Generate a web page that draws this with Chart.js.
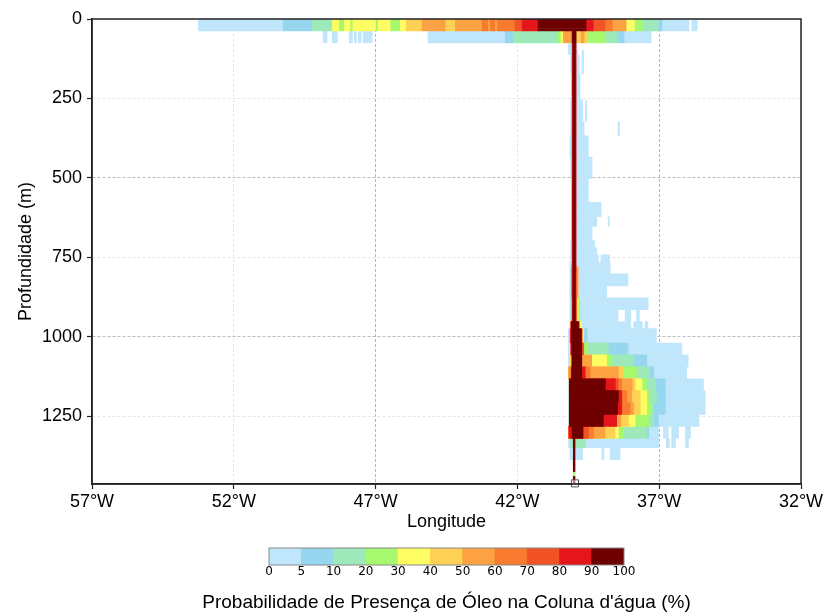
<!DOCTYPE html>
<html>
<head>
<meta charset="utf-8">
<script src="https://cdn.jsdelivr.net/npm/chart.js@4.4.1/dist/chart.umd.min.js"></script>
<style>
  body { margin: 0; background: #fff; }
  #wrap { position: relative; width: 827px; height: 614px; }
  canvas { position: absolute; left: 0; }
  #main { top: 0; }
  #bar { top: 540px; }
</style>
</head>
<body>
<div id="wrap">
  <canvas id="main" width="827" height="540"></canvas>
  <canvas id="bar" width="827" height="74"></canvas>
</div>
<script>
// probability classes: 0-5, 5-10, 10-20, ... 90-100 (%)
const classColors = ['#c0e6fb', '#96d7ef', '#9ee9b9', '#a6f86c', '#fefe64', '#fed155',
                     '#fca243', '#f87b2f', '#f15326', '#e5161b', '#6f0001'];
const cbTicks = ['0', '5', '10', '20', '30', '40', '50', '60', '70', '80', '90', '100'];
const depthTicks = [0, 250, 500, 750, 1000, 1250];

const maxDepth = 1464;
const subStep = 7.5;   // model layer resolution (m)

// rows: [top (m), bottom (m), [[lonWest, lonEast, class], ...]]
const surfaceRows = [
  [0, 37.5, [[-53.25, -50.26, 0], [-50.26, -49.23, 1], [-49.23, -48.53, 2], [-48.53, -48.3, 4],
    [-48.3, -48.1, 3], [-48.1, -47.9, 4], [-47.9, -47.8, 3], [-47.8, -47.01, 4], [-47.01, -46.91, 3],
    [-46.91, -46.49, 4], [-46.49, -46.13, 3], [-46.13, -45.92, 4], [-45.92, -45.36, 5], [-45.36, -44.55, 6],
    [-44.55, -44.19, 5], [-44.19, -43.24, 6], [-43.24, -43.05, 7], [-43.05, -42.95, 6], [-42.95, -42.8, 7],
    [-42.8, -42.7, 6], [-42.7, -42.08, 7], [-42.08, -41.83, 8], [-41.83, -41.27, 9], [-41.27, -39.58, 10],
    [-39.58, -39.33, 9], [-39.33, -38.91, 8], [-38.91, -38.66, 7], [-38.66, -38.17, 6], [-38.17, -37.88, 4],
    [-37.88, -37.6, 3], [-37.6, -37.04, 2], [-37.04, -36.9, 1], [-36.9, -35.95, 0], [-35.85, -35.66, 0]]],
  [37.5, 75, [[-48.85, -48.71, 0], [-48.53, -48.35, 0], [-47.93, -47.82, 0], [-47.75, -47.68, 0],
    [-47.61, -47.51, 0], [-47.44, -47.12, 0], [-45.15, -42.43, 0], [-42.43, -42.15, 1], [-42.15, -40.56, 2],
    [-40.56, -40.46, 3], [-40.46, -40.38, 4], [-40.38, -40.07, 6], [-40.07, -39.93, 10], [-39.93, -39.75, 5],
    [-39.75, -39.65, 6], [-39.65, -39.54, 5], [-39.54, -38.91, 3], [-38.91, -38.48, 2], [-38.48, -38.24, 1],
    [-38.24, -37.29, 0]]]
];

const columnRows = [
  [75, 97.5, [[-40.2, -39.9, 0]]],
  [97.5, 112.5, [[-40.2, -40.1, 0], [-39.95, -39.88, 0], [-39.72, -39.67, 0]]],
  [112.5, 172.5, [[-40.12, -39.82, 0], [-39.72, -39.67, 0]]],
  [172.5, 255, [[-40.1, -39.79, 0]]],
  [255, 322.5, [[-40.12, -39.7, 0], [-39.6, -39.56, 0]]],
  [322.5, 367.5, [[-40.12, -39.65, 0], [-38.45, -38.4, 0]]],
  [367.5, 435, [[-40.15, -39.5, 0]]],
  [435, 502.5, [[-40.12, -39.37, 0]]],
  [502.5, 577.5, [[-40.1, -39.5, 0]]],
  [577.5, 622.5, [[-40.1, -39.05, 0]]],
  [622.5, 652.5, [[-40.1, -39.2, 0], [-38.8, -38.76, 0]]],
  [652.5, 697.5, [[-40.1, -39.37, 0]]],
  [697.5, 720, [[-40.12, -39.28, 0]]],
  [720, 742.5, [[-40.12, -39.2, 0]]],
  [742.5, 765, [[-40.12, -39.15, 0], [-39.05, -38.75, 0]]],
  [765, 802.5, [[-40.15, -38.73, 0]]],
  [802.5, 840, [[-40.15, -38.1, 0]]],
  [840, 877.5, [[-40.15, -38.85, 0]]],
  [877.5, 915, [[-40.15, -37.39, 0]]],
  [915, 952.5, [[-40.15, -38.45, 0], [-38.2, -38.0, 0], [-37.8, -37.7, 0]]],
  [952.5, 975, [[-40.15, -38.0, 0], [-37.9, -37.6, 0], [-37.5, -37.4, 0]]]
];

const coreRows = [
  [75, 780, [[-40.07, -39.93, 9], [-40.04, -39.96, 10]]],
  [780, 877.5, [[-40.1, -39.86, 6], [-40.07, -39.93, 9], [-40.04, -39.96, 10]]],
  [877.5, 952.5, [[-40.1, -39.8, 3], [-40.1, -39.86, 4], [-40.08, -39.9, 6], [-40.07, -39.93, 9], [-40.04, -39.96, 10]]],
  [952.5, 975, [[-40.15, -39.75, 4], [-40.12, -39.82, 9], [-40.1, -39.85, 10]]]
];

const plumeRows = [
  [975, 1020, [[-40.2, -37.1, 0], [-39.66, -39.54, 1], [-39.72, -39.66, 4], [-40.14, -39.72, 9], [-40.1, -39.75, 10]]],
  [1020, 1057.5, [[-40.2, -36.2, 0], [-39.73, -38.1, 1], [-39.73, -38.8, 2], [-39.73, -39.54, 3],
    [-39.75, -39.66, 8], [-40.12, -40.07, 9], [-40.08, -39.73, 10]]],
  [1057.5, 1095, [[-40.2, -35.98, 0], [-39.73, -37.44, 1], [-39.73, -37.91, 2], [-39.73, -38.67, 3],
    [-39.73, -38.85, 4], [-40.14, -40.08, 5], [-39.73, -39.38, 6], [-40.08, -39.73, 10]]],
  [1095, 1132.5, [[-40.2, -36.03, 0], [-40.2, -37.19, 1], [-40.2, -37.37, 2], [-40.2, -37.79, 3],
    [-40.2, -38.26, 5], [-40.2, -38.44, 6], [-40.14, -39.44, 7], [-40.1, -39.61, 9], [-40.08, -39.73, 10]]],
  [1132.5, 1170, [[-40.2, -35.44, 0], [-40.17, -36.79, 1], [-40.17, -37.14, 2], [-40.17, -37.45, 3],
    [-40.17, -37.61, 4], [-40.17, -37.85, 5], [-40.17, -37.95, 6], [-40.17, -38.32, 7], [-40.17, -38.45, 8],
    [-40.17, -38.55, 9], [-40.17, -38.9, 10]]],
  [1170, 1207.5, [[-40.2, -35.38, 0], [-40.17, -36.79, 1], [-40.17, -37.1, 2], [-40.17, -37.37, 3],
    [-40.17, -37.44, 4], [-40.17, -37.67, 5], [-40.17, -37.97, 6], [-40.17, -38.14, 7], [-40.17, -38.32, 9],
    [-40.17, -38.44, 10]]],
  [1207.5, 1245, [[-40.2, -35.38, 0], [-40.17, -36.79, 1], [-40.17, -37.2, 2], [-40.17, -37.26, 3],
    [-40.17, -37.44, 4], [-40.17, -37.67, 5], [-40.17, -37.9, 6], [-40.17, -38.03, 7], [-40.17, -38.32, 9],
    [-40.17, -38.47, 10]]],
  [1245, 1282.5, [[-40.2, -35.6, 0], [-40.17, -37.03, 1], [-40.17, -37.2, 2], [-40.17, -37.37, 3],
    [-40.17, -37.85, 4], [-40.17, -38.09, 5], [-40.17, -38.35, 6], [-40.17, -38.5, 9], [-40.17, -38.97, 10]]],
  [1282.5, 1320, [[-40.2, -37.02, 0], [-36.85, -36.68, 0], [-36.56, -36.32, 0], [-36.07, -35.9, 0],
    [-40.2, -37.37, 1], [-40.2, -37.44, 2], [-40.2, -38.26, 3], [-40.2, -38.44, 4], [-40.2, -38.56, 5],
    [-40.2, -38.91, 6], [-40.2, -39.32, 7], [-40.2, -39.5, 8], [-40.17, -39.69, 9], [-40.07, -39.69, 10]]],
  [1320, 1350, [[-40.2, -37.02, 0], [-36.75, -36.64, 0], [-36.56, -36.43, 0], [-36.07, -35.97, 0],
    [-40.12, -39.6, 2], [-40.03, -39.97, 10]]],
  [1350, 1387.5, [[-40.15, -39.7, 0], [-39.02, -38.95, 0], [-38.73, -38.38, 0], [-40.03, -39.97, 10]]]
];

const wellRows = [
  [1387.5, 1425, [[-40.03, -39.97, 10]]],
  [1425, 1440, [[-40.03, -39.97, 3]]],
  [1440, 1462.5, [[-40.03, -39.97, 10]]]
];

const wellHead = [{ x: -39.97, y: 1462 }];

const layers = classColors.map(c => ({
  type: 'bar',
  data: [],
  backgroundColor: c,
  borderWidth: 0,
  grouped: false,
  barPercentage: 1,
  categoryPercentage: 1
}));

function addRows(rows) {
  rows.forEach(([top, bottom, segs]) => {
    for (let d = top; d < bottom - 0.01; d += subStep) {
      segs.forEach(([a, b, k]) => {
        layers[k].data.push({ x: [a, b], y: d + subStep / 2 });
      });
    }
  });
}
addRows(surfaceRows);
addRows(columnRows);
addRows(coreRows);
addRows(plumeRows);
addRows(wellRows);

const mainFont = { family: 'Liberation Sans', size: 18 };

const frame = {
  id: 'frame',
  afterDraw(chart) {
    const { ctx, chartArea: a } = chart;
    ctx.save();
    ctx.strokeStyle = '#222';
    ctx.lineWidth = 1.5;
    ctx.strokeRect(a.left, a.top, a.right - a.left, a.bottom - a.top);
    ctx.restore();
  }
};

// Chart.js paints the first dataset last, so the highest class goes first
const marker = {
  type: 'scatter',
  indexAxis: 'x',
  data: wellHead,
  pointStyle: 'rect',
  pointRadius: 5,
  borderWidth: 1,
  borderColor: '#555',
  backgroundColor: 'rgba(255,255,255,0.5)',
  clip: false
};

new Chart(document.getElementById('main'), {
  type: 'bar',
  data: { datasets: [marker, ...layers.slice().reverse()] },
  options: {
    responsive: false,
    animation: false,
    indexAxis: 'y',
    layout: { padding: { left: 0, top: 19, right: 26, bottom: 0 } },
    plugins: { legend: { display: false }, tooltip: { enabled: false } },
    scales: {
      x: {
        type: 'linear', position: 'bottom', min: -57, max: -32, offset: false, z: 1,
        ticks: { stepSize: 5, callback: v => Math.abs(v) + '°W', color: '#000', font: mainFont,
                 padding: 2, maxRotation: 0, autoSkip: false },
        grid: { color: c => ([-47, -37].includes(c.tick && c.tick.value) ? '#b4b4b4' : '#e6e6e6'),
                tickColor: '#222', tickLength: 5, tickWidth: 1.2, offset: false },
        border: { color: '#222', width: 1.5, dash: [3, 2] },
        title: { display: true, text: 'Longitude', color: '#000', font: mainFont, padding: { top: 0, bottom: 7 } },
        afterFit: s => { s.height = 56; }
      },
      y: {
        type: 'linear', position: 'left', reverse: true, min: 0, max: maxDepth, offset: false, z: 1,
        afterBuildTicks: s => { s.ticks = depthTicks.map(v => ({ value: v })); },
        ticks: { callback: v => String(v), color: '#000', font: mainFont, padding: 5 },
        grid: { color: c => ([500, 1000].includes(c.tick && c.tick.value) ? '#bcbcbc' : '#e6e6e6'),
                tickColor: '#222', tickLength: 5, tickWidth: 1.2, offset: false },
        border: { color: '#222', width: 1.5, dash: [3, 2] },
        title: { display: true, text: 'Profundidade (m)', color: '#000', font: mainFont, padding: { top: 15, bottom: 0 } },
        afterFit: s => { s.width = 92; }
      }
    }
  },
  plugins: [frame]
});

const outline = {
  id: 'outline',
  afterDraw(chart) {
    const { ctx, chartArea: a } = chart;
    ctx.save();
    ctx.strokeStyle = '#888';
    ctx.lineWidth = 1;
    ctx.strokeRect(a.left, a.top, a.right - a.left, a.bottom - a.top);
    ctx.restore();
  }
};

const hiddenAxis = {
  ticks: { display: false },
  grid: { display: false, drawTicks: false },
  border: { display: false }
};

new Chart(document.getElementById('bar'), {
  type: 'bar',
  data: {
    labels: ['cb'],
    datasets: [{
      data: classColors.map((c, i) => ({ x: [i, i + 1], y: 'cb' })),
      backgroundColor: classColors,
      borderWidth: 0,
      barPercentage: 1,
      categoryPercentage: 1
    }]
  },
  options: {
    responsive: false,
    animation: false,
    indexAxis: 'y',
    layout: { padding: { left: 66, right: 0, top: 8, bottom: 0 } },
    plugins: {
      legend: { display: false },
      tooltip: { enabled: false },
      title: {
        display: true, position: 'bottom', text: "Probabilidade de Presença de Óleo na Coluna d'água (%)",
        color: '#000', font: { family: 'Liberation Sans', size: 19, weight: 'normal' }, padding: { top: 0, bottom: 0 }
      }
    },
    scales: {
      x: {
        type: 'linear', min: 0, max: cbTicks.length - 1,
        ticks: { stepSize: 1, callback: v => cbTicks[v], color: '#000',
                 font: { family: 'DejaVu Sans', size: 12 }, padding: 0, maxRotation: 0, autoSkip: false },
        grid: { display: false, drawTicks: false },
        border: { display: false },
        afterFit: s => { s.height = 26.2; }
      },
      y: { type: 'category', position: 'left', ...hiddenAxis, afterFit: s => { s.width = 203; } },
      y2: { type: 'linear', position: 'right', ...hiddenAxis, afterFit: s => { s.width = 203; } }
    }
  },
  plugins: [outline]
});
</script>
</body>
</html>
